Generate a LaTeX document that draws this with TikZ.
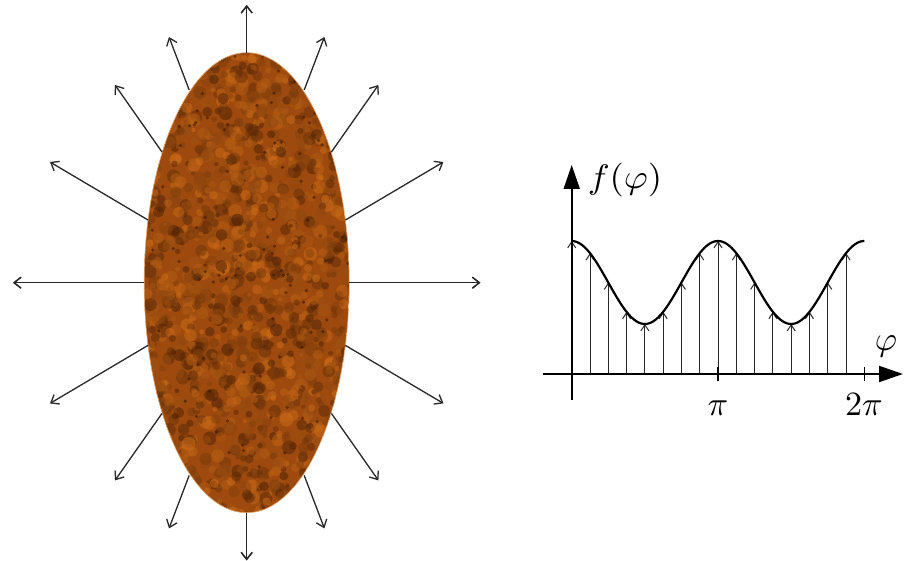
\documentclass[tikz,border=0pt]{standalone}
\usetikzlibrary{arrows.meta,calc}
\definecolor{ebase}{RGB}{158,74,14}
\definecolor{elight}{RGB}{212,112,24}
\definecolor{edark}{RGB}{72,30,5}
\definecolor{raygray}{RGB}{40,40,40}
\tikzset{
  ray/.style={draw=raygray, line width=1.3pt, -{Straight Barb[length=7pt,width=11pt]}},
  stem/.style={draw=raygray, line width=1pt, -{Straight Barb[length=6pt,width=8pt]}},
  axisline/.style={draw=black, line width=1.9pt, -{Triangle[length=24pt,width=16pt]}},
  ticklet/.style={draw=black, line width=1.6pt},
  curveline/.style={draw=black, line width=2.2pt},
  lbl/.style={inner sep=0pt, scale=3.4}
}
\begin{document}
\begin{tikzpicture}[x=1pt,y=-1pt]
\useasboundingbox (0,0) rectangle (909,561);
\fill[white] (0,0) rectangle (909,561);
% ---------- textured ellipse ----------
\coordinate (C) at (246.7,282.7);
\begin{scope}
  \clip (C) ellipse [x radius=102.5, y radius=230];
  \fill[ebase] (C) ellipse [x radius=102.5, y radius=230];
  \pgfmathsetseed{7}
  \foreach \i in {1,...,1700}{
    \pgfmathsetmacro\px{142+rnd*210}
    \pgfmathsetmacro\py{50+rnd*466}
    \pgfmathsetmacro\rr{2+rnd*5}
    \pgfmathsetmacro\cc{rnd*100}
    \fill[edark!\cc!elight, opacity=0.5] (\px,\py) circle (\rr);
  }
  \foreach \i in {1,...,120}{
    \pgfmathsetmacro\px{142+rnd*210}
    \pgfmathsetmacro\py{50+rnd*466}
    \fill[edark!80!black, opacity=0.6] (\px,\py) circle (1.8);
  }
\end{scope}
\draw[elight!60!white, line width=0.6pt] (C) ellipse [x radius=102.5, y radius=230];
% ---------- rays ----------
\foreach \sx/\sy/\n in {1/1/a,-1/1/b,1/-1/c,-1/-1/d}{
  \foreach \ax/\ay/\bx/\by/\m in {0/-230/0/-277.7/0, -57.5/-192.7/-77.7/-245.7/1, -84.7/-130.7/-131.7/-197.7/2, -98.7/-62.7/-196.7/-120.7/3, -102.5/0/-233.7/0/4}{
    \coordinate (s\n\m) at ($(C)+(\sx*\ax,\sy*\ay)$);
    \coordinate (t\n\m) at ($(C)+(\sx*\bx,\sy*\by)$);
    \draw[ray] (s\n\m) -- (t\n\m);
  }
}
% ---------- graph ----------
\coordinate (O) at (571.7,374);
\coordinate (xs) at (543,374);
\coordinate (xe) at (903,374);
\coordinate (ys) at (571.7,400);
\coordinate (ye) at (571.7,165);
\foreach \k in {0,...,15}{
  \pgfmathsetmacro\xx{571.7+\k*18.29}
  \pgfmathsetmacro\yy{282.5-41.5*cos(45*\k)}
  \coordinate (b\k) at (\xx,374);
  \coordinate (h\k) at (\xx,\yy);
  \draw[stem] (b\k) -- (h\k);
}
\draw[curveline] plot[domain=0:720, samples=160, smooth] ({571.7+\x/720*292.6},{282.5-41.5*cos(\x)});
\draw[axisline] (xs) -- (xe);
\draw[axisline] (ys) -- (ye);
\coordinate (p1) at (718,367);
\coordinate (p2) at (718,381);
\coordinate (q1) at (864.3,367);
\coordinate (q2) at (864.3,381);
\draw[ticklet] (p1) -- (p2);
\draw[ticklet] (q1) -- (q2);
\node[lbl, anchor=base, xscale=1.08] (fl) at (625,189) {$f(\varphi)$};
\node[lbl] (phl) at (886,346) {$\varphi$};
\node[lbl, anchor=base] (pil) at (718,415) {$\pi$};
\node[lbl, anchor=base] (tpil) at (864,415) {$2\pi$};
\end{tikzpicture}
\end{document}
